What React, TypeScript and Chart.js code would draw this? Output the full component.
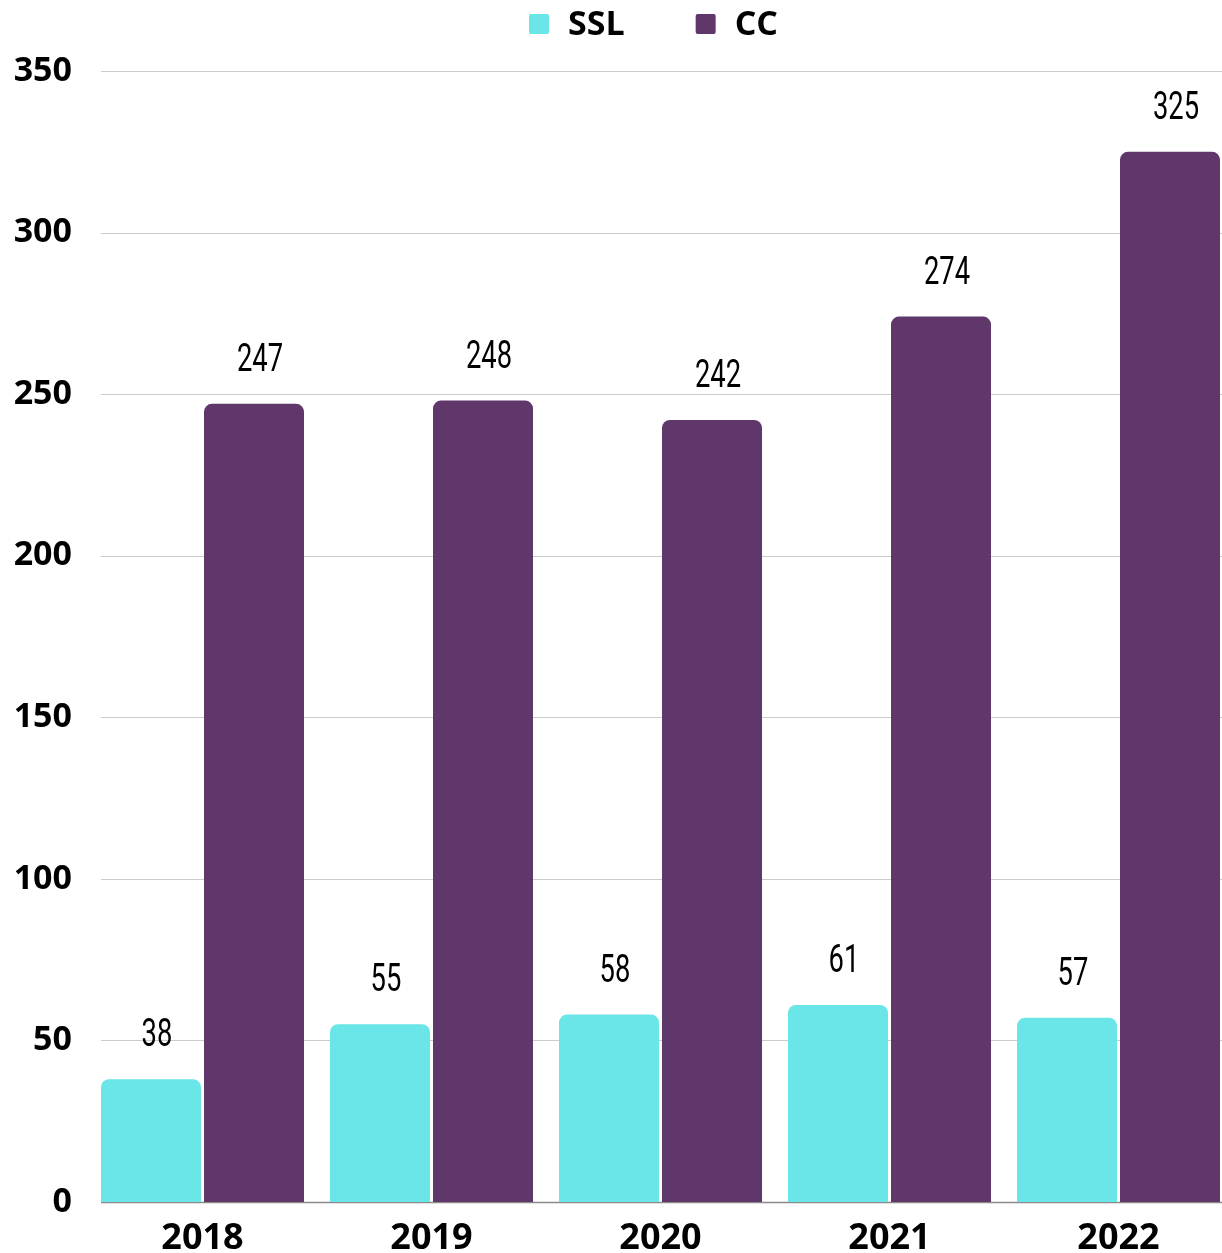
import React, { useEffect, useRef } from "react";
import { Chart, registerables } from "chart.js";

Chart.register(...registerables);

const categories = ["2018", "2019", "2020", "2021", "2022"];
const sslValues = [38, 55, 58, 61, 57];
const ccValues = [247, 248, 242, 274, 325];
const seriesNames = ["SSL", "CC"];
const seriesColors = ["#6ae5e8", "#5f376a"];
const yTicks = [0, 50, 100, 150, 200, 250, 300, 350];

const AXIS_FONT = "'Open Sans', 'DejaVu Sans', sans-serif";
const LABEL_FONT = "Roboto, 'Liberation Sans', sans-serif";

const gridPlugin = {
  id: "customGrid",
  beforeDatasetsDraw(chart: any) {
    const { ctx, chartArea, scales } = chart;
    const meta = chart.getDatasetMeta(0);
    const first = meta.data[0] as any;
    const left = first.x - first.width / 2;
    ctx.save();
    scales.y.ticks.forEach((t: any) => {
      const y = Math.round(scales.y.getPixelForValue(t.value)) + 0.5;
      ctx.strokeStyle = t.value === 0 ? "#8a8a8a" : "#cccccc";
      ctx.lineWidth = t.value === 0 ? 1.5 : 1;
      ctx.beginPath();
      ctx.moveTo(left, y);
      ctx.lineTo(chartArea.right, y);
      ctx.stroke();
    });
    ctx.restore();
  },
};

const valueLabelPlugin = {
  id: "valueLabels",
  afterDatasetsDraw(chart: any) {
    const { ctx } = chart;
    ctx.save();
    ctx.fillStyle = "#000";
    ctx.font = `400 38px ${LABEL_FONT}`;
    ctx.textAlign = "center";
    ctx.textBaseline = "alphabetic";
    chart.data.datasets.forEach((ds: any, di: number) => {
      const meta = chart.getDatasetMeta(di);
      meta.data.forEach((el: any, i: number) => {
        ctx.save();
        ctx.translate(el.x + 6, el.y - 33);
        ctx.scale(0.72, 1);
        ctx.fillText(String(ds.data[i]), 0, 0);
        ctx.restore();
      });
    });
    ctx.restore();
  },
};

const legendPlugin = {
  id: "customLegend",
  afterDraw(chart: any) {
    const { ctx, chartArea } = chart;
    const box = 20;
    const gap = 19;
    const spacing = 71;
    ctx.save();
    ctx.font = `700 34px ${AXIS_FONT}`;
    const items = chart.data.datasets.map((ds: any) => ({
      text: ds.label,
      color: ds.backgroundColor,
      w: ctx.measureText(ds.label).width,
    }));
    const total =
      items.reduce((s: number, it: any) => s + box + gap + it.w, 0) +
      spacing * (items.length - 1);
    let x = (chartArea.left + chartArea.right) / 2 - 7 - total / 2;
    const cy = 24;
    ctx.textBaseline = "middle";
    ctx.textAlign = "left";
    items.forEach((it: any) => {
      ctx.fillStyle = it.color;
      ctx.beginPath();
      (ctx as any).roundRect(x, cy - box / 2, box, box, 2);
      ctx.fill();
      ctx.fillStyle = "#000";
      ctx.fillText(it.text, x + box + gap, cy + 1);
      x += box + gap + it.w + spacing;
    });
    ctx.restore();
  },
};

export default function App() {
  const ref = useRef<HTMLCanvasElement | null>(null);
  useEffect(() => {
    if (!ref.current) return;
    const chart = new Chart(ref.current, {
      type: "bar",
      data: {
        labels: categories,
        datasets: [
          {
            label: seriesNames[0],
            data: sslValues,
            backgroundColor: seriesColors[0],
            borderRadius: { topLeft: 8, topRight: 8, bottomLeft: 0, bottomRight: 0 },
            borderSkipped: false,
            categoryPercentage: 206 / 229,
            barPercentage: 100 / 103,
          },
          {
            label: seriesNames[1],
            data: ccValues,
            backgroundColor: seriesColors[1],
            borderRadius: { topLeft: 8, topRight: 8, bottomLeft: 0, bottomRight: 0 },
            borderSkipped: false,
            categoryPercentage: 206 / 229,
            barPercentage: 100 / 103,
          },
        ],
      },
      options: {
        responsive: false,
        animation: false,
        layout: { padding: { top: 71, left: 0, right: 0, bottom: 0 } },
        plugins: {
          legend: { display: false },
          tooltip: { enabled: false },
        },
        scales: {
          x: {
            offset: true,
            grid: { display: false, drawTicks: false },
            border: { display: false },
            ticks: {
              color: "#000",
              font: { family: AXIS_FONT, size: 36, weight: "bold" },
              padding: 15,
              maxRotation: 0,
            },
            afterFit(scale: any) {
              scale.height = 51;
            },
          },
          y: {
            min: 0,
            max: 350,
            afterBuildTicks(scale: any) {
              scale.ticks = yTicks.map((v) => ({ value: v }));
            },
            grid: { display: false, drawTicks: false },
            border: { display: false },
            ticks: {
              color: "#000",
              font: { family: AXIS_FONT, size: 34, weight: "bold" },
              padding: 16,
            },
            afterFit(scale: any) {
              scale.width = 88;
            },
          },
        },
      },
      plugins: [gridPlugin, valueLabelPlugin, legendPlugin],
    } as any);
    return () => chart.destroy();
  }, []);

  return (
    <div
      style={{
        position: "absolute",
        left: 0,
        top: 0,
        width: 1222,
        height: 1253,
        overflow: "hidden",
        background: "#fff",
      }}
    >
      <canvas ref={ref} width={1233} height={1253} style={{ display: "block" }} />
    </div>
  );
}
